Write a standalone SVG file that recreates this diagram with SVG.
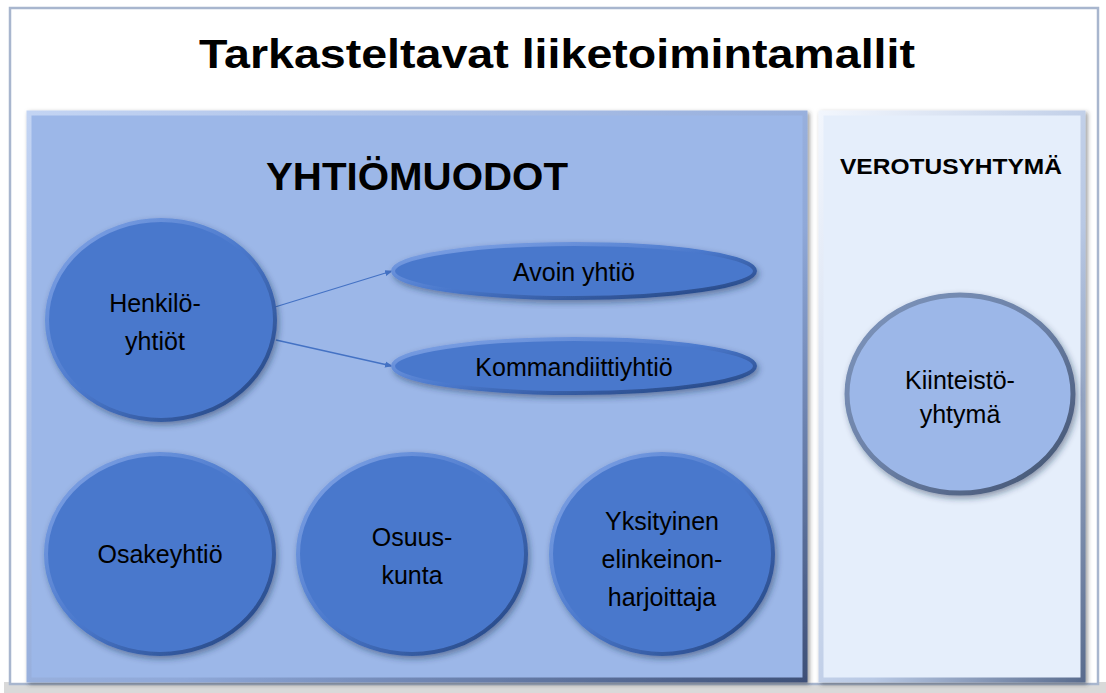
<svg xmlns="http://www.w3.org/2000/svg" width="1106" height="693" viewBox="0 0 1106 693">
<style>
.t{font-family:"Liberation Sans",Arial,sans-serif;fill:#000;text-anchor:middle}
.n{font-size:25px}
.b{font-weight:bold}
.node{fill:#4A78CC;stroke:url(#edge);stroke-width:4;filter:url(#sh)}
.conn{stroke:#4472C4;stroke-width:1.3;fill:none;marker-end:url(#ah)}
</style>
<defs>
<linearGradient id="edge" x1="0" y1="0" x2="1" y2="1">
<stop offset="0" stop-color="#86A8E8"/><stop offset="0.5" stop-color="#4A78CC"/><stop offset="1" stop-color="#203F78"/>
</linearGradient>
<linearGradient id="edge2" x1="0" y1="0" x2="1" y2="1">
<stop offset="0" stop-color="#7E95BC"/><stop offset="0.5" stop-color="#6B80A6"/><stop offset="1" stop-color="#3F4F6C"/>
</linearGradient>
<linearGradient id="pedge" x1="0" y1="0" x2="1" y2="1">
<stop offset="0" stop-color="#C3D4F3"/><stop offset="0.6" stop-color="#8FA8D8"/><stop offset="1" stop-color="#3E5078"/>
</linearGradient>
<linearGradient id="pedge2" x1="0" y1="0" x2="1" y2="1">
<stop offset="0" stop-color="#F2F6FD"/><stop offset="0.6" stop-color="#B8C8E4"/><stop offset="1" stop-color="#5A6C8E"/>
</linearGradient>
<filter id="sh" x="-20%" y="-20%" width="140%" height="140%">
<feDropShadow dx="2" dy="3" stdDeviation="3" flood-color="#1a2a4a" flood-opacity="0.45"/>
</filter>
<filter id="psh" x="-5%" y="-5%" width="110%" height="110%">
<feDropShadow dx="2" dy="2" stdDeviation="2" flood-color="#333" flood-opacity="0.5"/>
</filter>
<marker id="ah" markerWidth="8" markerHeight="8" refX="7" refY="4" orient="auto" markerUnits="userSpaceOnUse">
<path d="M0,1 L8,4 L0,7 z" fill="#4472C4"/>
</marker>
</defs>
<rect width="1106" height="693" fill="#fff"/>
<g id="frame">
<rect x="4" y="682" width="1102" height="11" fill="#D9D9D9"/>
<rect x="10" y="8" width="1088" height="676" fill="#fff" stroke="#A8B6CE" stroke-width="2.5"/>
<text class="t b" x="557" y="68" font-size="41" textLength="716" lengthAdjust="spacingAndGlyphs">Tarkasteltavat liiketoimintamallit</text>
</g>
<g id="yhtiomuodot">
<rect x="29" y="113" width="776" height="567" fill="#9CB7E8" stroke="url(#pedge)" stroke-width="5" filter="url(#psh)"/>
<text class="t b" x="417" y="190" font-size="39" textLength="302" lengthAdjust="spacingAndGlyphs">YHTIÖMUODOT</text>
</g>
<g id="verotusyhtyma">
<rect x="821" y="113" width="262" height="567" fill="#E5EEFB" stroke="url(#pedge2)" stroke-width="5" filter="url(#psh)"/>
<text class="t b" x="951" y="174" font-size="22" textLength="222" lengthAdjust="spacingAndGlyphs">VEROTUSYHTYMÄ</text>
</g>
<g id="connectors">
<line class="conn" x1="275" y1="307" x2="392" y2="271"/>
<line class="conn" x1="276" y1="340" x2="392" y2="366"/>
</g>
<g id="henkiloyhtiot">
<ellipse class="node" cx="161" cy="320" rx="114" ry="100"/>
<text class="t n" x="155" y="312">Henkilö-</text>
<text class="t n" x="155" y="350">yhtiöt</text>
</g>
<g id="avoin">
<ellipse class="node" cx="574" cy="271" rx="181" ry="27"/>
<text class="t n" x="574" y="281">Avoin yhtiö</text>
</g>
<g id="kommandiitti">
<ellipse class="node" cx="574" cy="366" rx="181" ry="27"/>
<text class="t n" x="574" y="376">Kommandiittiyhtiö</text>
</g>
<g id="osakeyhtio">
<ellipse class="node" cx="160" cy="554" rx="114" ry="100"/>
<text class="t n" x="160" y="563">Osakeyhtiö</text>
</g>
<g id="osuuskunta">
<ellipse class="node" cx="412" cy="554" rx="114" ry="100"/>
<text class="t n" x="412" y="546">Osuus-</text>
<text class="t n" x="412" y="584">kunta</text>
</g>
<g id="yksityinen">
<ellipse class="node" cx="662" cy="554" rx="111" ry="100"/>
<text class="t n" x="662" y="530">Yksityinen</text>
<text class="t n" x="662" y="568">elinkeinon-</text>
<text class="t n" x="662" y="606">harjoittaja</text>
</g>
<g id="kiinteistoyhtyma">
<ellipse cx="960" cy="394" rx="113" ry="99" fill="#9CB7E8" stroke="url(#edge2)" stroke-width="5" filter="url(#sh)"/>
<text class="t n" x="960" y="389">Kiinteistö-</text>
<text class="t n" x="960" y="423">yhtymä</text>
</g>
</svg>
